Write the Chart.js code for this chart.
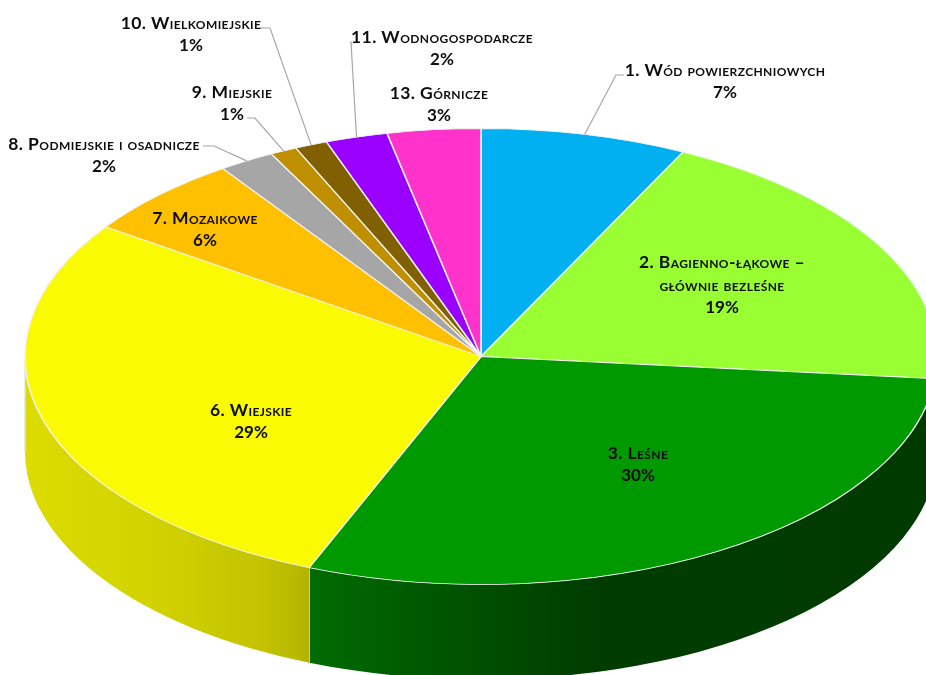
<!DOCTYPE html>
<html lang="pl">
<head>
<meta charset="utf-8">
<title>Krajobrazy</title>
<style>
  html, body { margin: 0; padding: 0; background: #fff; overflow: hidden; }
</style>
<script src="https://cdn.jsdelivr.net/npm/chart.js@4.4.3/dist/chart.umd.js"></script>
</head>
<body>
<canvas id="pie" width="926" height="675"></canvas>
<script>
const categories = [
  ['1. Wód powierzchniowych'],
  ['2. Bagienno-łąkowe –', 'głównie bezleśne'],
  ['3. Leśne'],
  ['6. Wiejskie'],
  ['7. Mozaikowe'],
  ['8. Podmiejskie i osadnicze'],
  ['9. Miejskie'],
  ['10. Wielkomiejskie'],
  ['11. Wodnogospodarcze'],
  ['13. Górnicze']
];
const shares = [7.3, 19.25, 29.6, 28.48, 5.79, 1.98, 0.95, 1.15, 2.2, 3.3];
const percentLabels = ['7%', '19%', '30%', '29%', '6%', '2%', '1%', '1%', '2%', '3%'];
const sliceColors = ['#00B0F0', '#99FF33', '#009900', '#FAFA00', '#FFC000', '#A6A6A6', '#BF8F00', '#806000', '#9900FF', '#FF33CC'];

// where the text blocks sit (centre x, y of first line)
const labelX = [725, 722, 638, 251, 205, 104, 232, 191, 442, 439];
const labelY = [70, 262, 453, 410, 218, 144, 92, 23, 37, 93];
// leader line start and elbow, null = label sits on its slice
const leaders = [
  [[624, 75], [616, 75]], null, null, null, null,
  [[203, 146], [214, 146]],
  [[247, 118], [255, 118]],
  [[260, 28], [270, 28]],
  [[350, 42], [351, 42]],
  null
];

// side wall shading, left to right
const wallStops = {
  1: [[0, '#003A00'], [1, '#003A00']],
  2: [[0, '#006C00'], [0.15, '#005C00'], [0.3, '#004C00'], [0.46, '#003C00'], [1, '#003A00']],
  3: [[0, '#DCDC00'], [0.45, '#D2D200'], [0.85, '#C2C200'], [1, '#B4B400']]
};

const squash = 2;      // horizontal stretch of the pie
const depth = 95;

const pie3d = {
  id: 'pie3d',
  beforeDatasetsDraw(chart) {
    const ctx = chart.ctx;
    const arcs = chart.getDatasetMeta(0).data;
    arcs.forEach((arc, i) => {
      if (!wallStops[i]) return;
      const rx = arc.outerRadius * squash, ry = arc.outerRadius;
      const a0 = Math.max(arc.startAngle, 0);
      const a1 = Math.min(arc.endAngle, Math.PI);
      if (a1 <= a0) return;
      const x0 = arc.x + rx * Math.cos(a1), x1 = arc.x + rx * Math.cos(a0);
      const grad = ctx.createLinearGradient(x0, 0, x1, 0);
      wallStops[i].forEach(s => grad.addColorStop(s[0], s[1]));
      ctx.beginPath();
      ctx.ellipse(arc.x, arc.y, rx, ry, 0, a0, a1);
      ctx.ellipse(arc.x, arc.y + depth, rx, ry, 0, a1, a0, true);
      ctx.closePath();
      ctx.fillStyle = grad;
      ctx.fill();
      // thin pale edge between walls
      ctx.beginPath();
      ctx.moveTo(x0, arc.y + ry * Math.sin(a1));
      ctx.lineTo(x0, arc.y + ry * Math.sin(a1) + depth);
      ctx.strokeStyle = '#DCE4DC';
      ctx.lineWidth = 1.4;
      ctx.stroke();
    });
  },
  beforeDatasetDraw(chart) {
    const ctx = chart.ctx, arc = chart.getDatasetMeta(0).data[0];
    ctx.save();
    ctx.translate(arc.x, arc.y);
    ctx.scale(squash, 1);
    ctx.translate(-arc.x, -arc.y);
  },
  afterDatasetDraw(chart) {
    chart.ctx.restore();
  },
  afterDraw(chart) {
    const ctx = chart.ctx;
    const arcs = chart.getDatasetMeta(0).data;
    ctx.save();
    ctx.strokeStyle = '#A6A6A6';
    ctx.lineWidth = 1.2;
    arcs.forEach((arc, i) => {
      if (!leaders[i]) return;
      const mid = (arc.startAngle + arc.endAngle) / 2;
      ctx.beginPath();
      ctx.moveTo(leaders[i][0][0], leaders[i][0][1]);
      ctx.lineTo(leaders[i][1][0], leaders[i][1][1]);
      ctx.lineTo(arc.x + arc.outerRadius * squash * Math.cos(mid), arc.y + arc.outerRadius * Math.sin(mid));
      ctx.stroke();
    });
    ctx.fillStyle = '#0D0D0D';
    ctx.textAlign = 'center';
    ctx.textBaseline = 'middle';
    categories.forEach((lines, i) => {
      ctx.font = 'small-caps bold 17.5px Lato';
      ctx.letterSpacing = '0.4px';
      lines.forEach((line, k) => ctx.fillText(line, labelX[i], labelY[i] + k * 23));
      ctx.font = 'bold 17px Lato';
      ctx.letterSpacing = '0px';
      ctx.fillText(percentLabels[i], labelX[i], labelY[i] + lines.length * 23);
    });
    ctx.restore();
  }
};

new Chart(document.getElementById('pie'), {
  type: 'pie',
  data: {
    labels: categories.map(c => c.join(' ')),
    datasets: [{
      data: shares,
      backgroundColor: sliceColors,
      borderColor: '#F2F2F2',
      borderWidth: 0.8,
      radius: 228,
      clip: false
    }]
  },
  options: {
    responsive: false,
    animation: false,
    layout: { padding: { left: 36, top: 38 } },
    plugins: { legend: { display: false }, tooltip: { enabled: false } }
  },
  plugins: [pie3d]
});
</script>
</body>
</html>
